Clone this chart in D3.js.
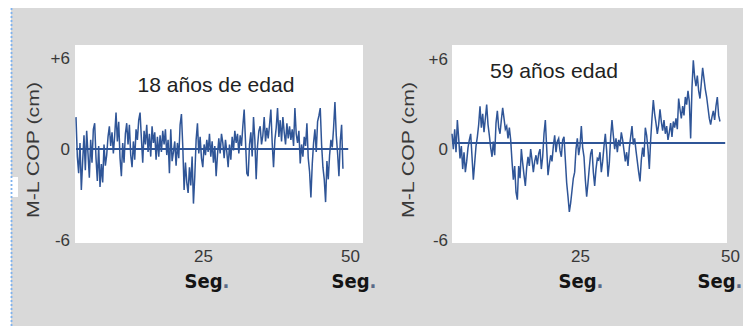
<!DOCTYPE html>
<html>
<head>
<meta charset="utf-8">
<script src="https://cdn.jsdelivr.net/npm/d3@7"></script>
<style>
html,body{margin:0;padding:0;background:#fff;}
svg{display:block;}
</style>
</head>
<body>
<svg id="chart" width="743" height="326"></svg>
<script>
// ---------- DATA ----------
const panelTitles = ["18 años de edad", "59 años edad"];
const yAxisTitle = "M-L COP (cm)";
const xAxisTitle = "Seg.";
const yTickValues = [6, 0, -6];
const yTickLabels = ["+6", "0", "-6"];
const xTickValues = [25, 50];
const xTickLabels = ["25", "50"];

// sampling window (seconds) of each recording
const leftTimeWindow = [3.4, 48.8];
const rightTimeWindow = [3.67, 48.33];

// M-L centre of pressure (cm), 18-year-old subject
const leftValues = [
  2.1,-0.5,-1.6,0.4,-2.7,-0.8,0.9,-1.4,1.2,-0.3,
  -1.9,0.6,-0.9,1.3,1.7,-0.6,-2.1,0.2,-2.5,-1.0,
  -2.2,0.3,-1.1,-0.4,0.8,1.5,0.2,1.1,-0.3,0.9,
  2.4,0.5,1.8,-0.6,-1.8,0.4,-0.9,1.0,1.7,0.3,
  1.6,-0.4,-1.2,0.5,-0.7,1.3,0.6,1.9,2.4,0.7,
  -0.9,1.2,0.3,1.6,-0.2,1.0,-0.5,1.5,0.4,1.1,
  -0.7,0.8,-0.5,0.9,-0.2,1.2,0.3,1.3,-0.4,0.6,
  -1.6,1.3,-0.8,-0.2,0.5,-1.1,0.4,-0.6,1.6,2.3,
  0.2,-2.7,-0.9,-2.2,-2.9,-1.2,-2.4,-0.5,-3.6,-1.8,
  0.6,1.7,-0.3,0.8,-0.6,-1.2,0.3,-0.4,0.6,-0.2,
  1.0,-0.5,0.5,-0.9,0.2,-1.8,-0.4,0.7,-0.3,1.0,
  0.4,-0.6,0.6,-0.2,-1.2,0.3,-0.7,0.8,-0.1,1.2,
  0.4,1.0,-0.3,0.9,0.2,1.5,2.6,0.5,-1.6,-1.8,
  0.3,1.1,-0.5,2.1,0.6,-2.0,0.2,1.2,1.5,0.3,
  0.9,2.1,0.5,1.4,0.7,1.6,2.6,0.4,-1.2,0.6,
  1.4,2.7,0.8,1.9,0.5,2.1,1.1,0.3,1.7,0.7,
  1.5,0.6,1.3,0.2,2.7,1.0,0.4,1.2,-0.95,0.3,
  -0.5,0.8,0.2,1.7,-0.6,-1.5,-3.2,-1.0,0.4,1.3,
  -0.2,1.8,2.2,2.7,0.3,-1.2,-2.0,-3.5,-0.8,-2.0,
  -0.4,0.6,0.1,1.4,3.1,0.9,-0.3,-1.8,0.5,1.6,
  -1.3
];

// M-L centre of pressure (cm), 59-year-old subject
const rightValues = [
  0.6,-0.4,0.9,-0.6,1.5,0.3,-1.0,-0.2,-1.7,-0.6,
  -1.9,-1.2,-0.3,0.2,0.6,-0.9,-2.4,-1.3,-0.2,0.4,
  1.2,2.4,1.0,1.9,0.7,1.6,2.5,1.2,0.5,-0.3,
  -0.9,0.1,-0.8,1.3,2.1,1.0,0.6,1.5,2.3,1.6,
  0.9,1.1,0.3,1.0,0.2,-1.2,-2.4,-1.5,-3.2,-3.7,
  -1.5,-2.3,-0.4,-1.3,-2.1,-2.8,-1.6,-0.9,-1.5,-0.4,
  -1.1,-1.9,-1.2,-0.8,-1.4,-0.7,-0.4,-1.7,-0.9,0.6,
  1.5,-0.3,-2.1,-1.4,-0.8,-1.2,-0.2,0.5,-0.6,0.1,
  0.3,-0.5,-0.9,0.2,0.4,-1.1,-2.6,-3.5,-4.5,-3.9,
  -3.1,-2.3,-1.9,-0.4,0.3,-0.8,-0.2,1.1,-0.3,-0.9,
  -2.4,-3.5,-2.6,-1.6,-0.7,-0.4,-1.9,-2.8,-1.7,-1.0,
  -1.1,-0.6,-1.9,-1.2,-0.2,0.6,-0.5,-2.2,-1.3,0.4,
  1.5,0.5,-0.4,0.3,-0.6,0.2,-0.2,0.7,0.2,-0.5,
  -1.2,-0.6,-1.5,-0.3,0.4,1.1,-0.1,0.3,-0.5,-1.2,
  -1.9,-2.5,-1.1,-0.3,-0.9,1.0,0.5,-0.4,-1.7,0.2,
  1.6,2.8,1.9,1.3,0.6,1.2,2.2,1.4,0.8,1.5,
  0.6,1.1,0.2,0.7,1.3,0.4,1.4,1.0,1.6,0.9,
  2.9,2.2,1.6,2.4,1.8,3.0,2.5,3.4,2.7,0.3,
  3.6,5.4,4.3,3.7,4.4,3.4,2.9,3.9,4.9,4.2,
  3.5,3.0,2.3,1.6,1.2,1.7,2.1,1.5,2.4,3.0,
  1.8,1.4
];

// ---------- LAYOUT ----------
const panels = [
  { values: leftValues, window: leftTimeWindow, title: panelTitles[0],
    rect: {x: 75, y: 45, w: 288, h: 198},
    xRange: [56, 350], yAxisRange: [240, 58], yDataRange: [240, 58],
    baseEnd: 49.7, yAxisX: 70, yTitleX: 33,
    titleX: 216, titleY: 92, titleLen: 157, segDx: [4, 4] },
  { values: rightValues, window: rightTimeWindow, title: panelTitles[1],
    rect: {x: 452, y: 45, w: 275, h: 198},
    xRange: [430, 730], yAxisRange: [240, 59], yDataRange: [235, 51],
    baseEnd: 49.2, yAxisX: 448, yTitleX: 408,
    titleX: 554, titleY: 78, titleLen: 128, segDx: [1, -10] }
];

const svg = d3.select("#chart");
const lineColor = "#2f5597";

// background
svg.append("rect").attr("x", 0).attr("y", 0).attr("width", 743).attr("height", 326).attr("fill", "#fff");
svg.append("rect").attr("x", 11).attr("y", 8).attr("width", 732).attr("height", 318).attr("fill", "#d9d9d9");
svg.append("rect").attr("x", 11).attr("y", 177).attr("width", 7).attr("height", 20).attr("fill", "#fff");
svg.append("line").attr("x1", 11.5).attr("x2", 11.5).attr("y1", 8).attr("y2", 326)
  .attr("stroke", "#7fb2ee").attr("stroke-width", 1.8).attr("stroke-dasharray", "2,2");

panels.forEach(p => {
  const g = svg.append("g");
  const x = d3.scaleLinear().domain([0, 50]).range(p.xRange);
  const yAxisScale = d3.scaleLinear().domain([-6, 6]).range(p.yAxisRange);
  const y = d3.scaleLinear().domain([-6, 6]).range(p.yDataRange);

  g.append("rect").attr("x", p.rect.x).attr("y", p.rect.y)
    .attr("width", p.rect.w).attr("height", p.rect.h).attr("fill", "#fff");

  const n = p.values.length;
  const t = d3.scaleLinear().domain([0, n - 1]).range(p.window);
  const pts = p.values.map((v, i) => [t(i), v]);

  // zero line
  g.append("line")
    .attr("x1", x(p.window[0])).attr("x2", x(p.baseEnd))
    .attr("y1", y(0)).attr("y2", y(0))
    .attr("stroke", lineColor).attr("stroke-width", 2);

  g.append("path")
    .datum(pts)
    .attr("fill", "none")
    .attr("stroke", lineColor)
    .attr("stroke-width", 1.5)
    .attr("stroke-linejoin", "miter")
    .attr("d", d3.line().x(d => x(d[0])).y(d => y(d[1])));

  // y axis labels
  const ya = g.append("g").attr("transform", `translate(${p.yAxisX},0)`)
    .call(d3.axisLeft(yAxisScale).tickValues(yTickValues)
      .tickFormat((d, i) => yTickLabels[i]).tickSize(0).tickPadding(0));
  ya.select(".domain").remove();
  ya.selectAll("text").attr("font-family", "'Liberation Sans', Arial, sans-serif")
    .attr("font-size", 17).attr("fill", "#383838");

  // x axis labels
  const xa = g.append("g").attr("transform", "translate(0,250)")
    .call(d3.axisBottom(x).tickValues(xTickValues)
      .tickFormat((d, i) => xTickLabels[i]).tickSize(0).tickPadding(0));
  xa.select(".domain").remove();
  xa.selectAll("text").attr("font-family", "'Liberation Sans', Arial, sans-serif")
    .attr("font-size", 17).attr("fill", "#383838");

  // "Seg." under each tick
  xTickValues.forEach((tv, i) => {
    const txt = g.append("text")
      .attr("x", x(tv) + p.segDx[i]).attr("y", 288)
      .attr("text-anchor", "middle")
      .attr("font-family", "'Liberation Sans Narrow', 'Arial Narrow', 'DejaVu Sans Condensed', sans-serif")
      .attr("font-weight", "bold").attr("font-size", 20).attr("fill", "#141414");
    txt.append("tspan").text(xAxisTitle.slice(0, -1));
    txt.append("tspan").attr("fill", "#5a6b88").text(xAxisTitle.slice(-1));
  });

  // y axis title
  g.append("text")
    .attr("transform", `translate(${p.yTitleX + 6},150) rotate(-90)`)
    .attr("text-anchor", "middle")
    .attr("font-family", "'Liberation Sans', Arial, sans-serif")
    .attr("font-size", 16).attr("fill", "#383838")
    .attr("textLength", 136).attr("lengthAdjust", "spacingAndGlyphs")
    .text(yAxisTitle);

  // panel title
  g.append("text")
    .attr("x", p.titleX).attr("y", p.titleY)
    .attr("text-anchor", "middle")
    .attr("font-family", "'Liberation Sans', Arial, sans-serif")
    .attr("font-size", 21).attr("fill", "#222")
    .attr("textLength", p.titleLen).attr("lengthAdjust", "spacingAndGlyphs")
    .text(p.title);
});
</script>
</body>
</html>
